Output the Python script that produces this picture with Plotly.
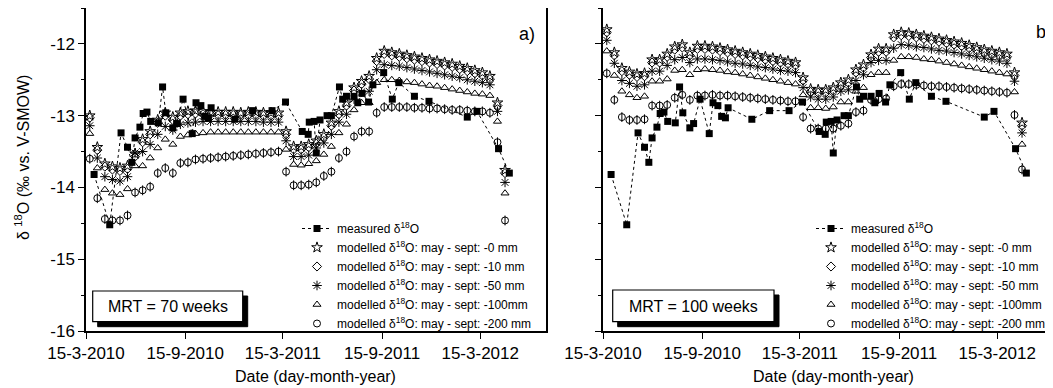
import plotly.graph_objects as go

# ---------------- data ----------------
model_dates = ["2010-03-22","2010-04-05","2010-04-19","2010-05-03","2010-05-17","2010-05-31","2010-06-14","2010-06-28",
               "2010-07-12","2010-07-26","2010-08-09","2010-08-23","2010-09-06","2010-09-20","2010-10-04","2010-10-18",
               "2010-11-01","2010-11-15","2010-11-29","2010-12-13","2010-12-27","2011-01-10","2011-01-24","2011-02-07",
               "2011-02-21","2011-03-07","2011-03-21","2011-04-04","2011-04-18","2011-05-02","2011-05-16","2011-05-30",
               "2011-06-13","2011-06-27","2011-07-11","2011-07-25","2011-08-08","2011-08-22","2011-09-05","2011-09-19",
               "2011-10-03","2011-10-17","2011-10-31","2011-11-14","2011-11-28","2011-12-12","2011-12-26","2012-01-09",
               "2012-01-23","2012-02-06","2012-02-20","2012-03-05","2012-03-19","2012-04-02","2012-04-16","2012-04-30"]

meas_dates = ["2010-03-30","2010-04-28","2010-05-19","2010-05-31","2010-06-08","2010-06-14","2010-06-23","2010-06-29",
              "2010-07-06","2010-07-13","2010-07-27","2010-08-04","2010-08-10","2010-08-23","2010-08-30","2010-09-11",
              "2010-09-28","2010-10-05","2010-10-14","2010-10-21","2010-10-28","2010-11-02","2010-12-16","2011-01-18",
              "2011-02-23","2011-03-20","2011-04-20","2011-05-01","2011-05-03","2011-05-12","2011-05-16","2011-05-23",
              "2011-06-05","2011-06-13","2011-06-28","2011-07-04","2011-07-11","2011-07-25","2011-08-01","2011-08-09",
              "2011-08-21","2011-08-29","2011-09-18","2011-10-04","2011-10-16","2011-11-14","2011-12-11","2012-02-20",
              "2012-03-09","2012-04-18","2012-05-08"]
measured = [-13.82,-14.52,-13.24,-13.44,-13.65,-13.31,-13.16,-12.97,-12.95,-13.08,-13.10,-12.60,-12.96,-13.17,-13.11,
            -12.77,-13.25,-12.82,-12.86,-13.01,-13.03,-12.89,-13.05,-12.93,-12.93,-12.81,-13.22,-13.26,-13.09,-13.08,
            -13.52,-13.06,-13.00,-13.00,-12.60,-12.77,-12.73,-12.73,-12.82,-12.69,-12.81,-12.57,-12.40,-12.77,-12.54,
            -12.73,-12.80,-13.02,-12.94,-13.46,-13.80]

# MRT = 70 weeks (panel a)
a_0mm = [-13.00,-13.44,-13.67,-13.71,-13.73,-13.70,-13.53,-13.33,-13.22,-13.06,
         -12.96,-13.02,-12.96,-12.94,-12.93,-12.94,-12.95,-12.95,-12.95,-12.95,
         -12.96,-12.95,-12.95,-12.96,-12.96,-12.96,-13.22,-13.43,-13.43,-13.40,
         -13.35,-13.26,-13.10,-12.94,-12.82,-12.61,-12.52,-12.45,-12.20,-12.10,
         -12.12,-12.14,-12.16,-12.18,-12.20,-12.22,-12.24,-12.26,-12.28,-12.31,
         -12.34,-12.37,-12.40,-12.45,-12.82,-13.76]
a_10mm = [-13.03,-13.48,-13.71,-13.75,-13.77,-13.74,-13.57,-13.37,-13.26,-13.10,
          -13.00,-13.06,-13.00,-12.98,-12.97,-12.98,-12.98,-12.99,-12.99,-12.99,
          -12.99,-12.99,-12.99,-13.00,-13.00,-13.00,-13.26,-13.47,-13.47,-13.44,
          -13.39,-13.30,-13.14,-12.98,-12.86,-12.65,-12.56,-12.49,-12.24,-12.14,
          -12.16,-12.18,-12.20,-12.22,-12.24,-12.26,-12.28,-12.30,-12.32,-12.35,
          -12.38,-12.41,-12.44,-12.49,-12.86,-13.80]
a_50mm = [-13.14,-13.59,-13.85,-13.89,-13.91,-13.85,-13.52,-13.50,-13.40,-13.26,
          -13.15,-13.20,-13.12,-13.10,-13.09,-13.08,-13.08,-13.08,-13.08,-13.08,
          -13.08,-13.08,-13.08,-13.09,-13.09,-13.09,-13.35,-13.57,-13.57,-13.55,
          -13.45,-13.38,-13.26,-13.09,-12.98,-12.77,-12.67,-12.66,-12.36,-12.29,
          -12.30,-12.31,-12.33,-12.35,-12.37,-12.39,-12.41,-12.43,-12.45,-12.47,
          -12.50,-12.52,-12.54,-12.57,-12.94,-13.93]
a_100mm = [-13.25,-13.73,-14.03,-14.08,-14.10,-14.02,-13.70,-13.70,-13.59,-13.45,
           -13.33,-13.40,-13.29,-13.27,-13.25,-13.24,-13.23,-13.23,-13.23,-13.23,
           -13.23,-13.23,-13.23,-13.23,-13.23,-13.23,-13.47,-13.68,-13.69,-13.67,
           -13.63,-13.54,-13.43,-13.24,-13.12,-12.92,-12.82,-12.82,-12.54,-12.50,
           -12.50,-12.51,-12.53,-12.54,-12.56,-12.58,-12.59,-12.61,-12.63,-12.65,
           -12.67,-12.69,-12.70,-12.72,-13.08,-14.08]
a_200mm = [-13.60,-14.15,-14.44,-14.46,-14.46,-14.39,-14.07,-14.04,-13.99,-13.80,
           -13.73,-13.80,-13.66,-13.65,-13.61,-13.60,-13.59,-13.58,-13.57,-13.56,
           -13.55,-13.54,-13.53,-13.52,-13.51,-13.50,-13.78,-13.97,-13.97,-13.96,
           -13.93,-13.84,-13.78,-13.59,-13.50,-13.29,-13.22,-13.22,-12.96,-12.88,
           -12.88,-12.88,-12.88,-12.89,-12.89,-12.90,-12.90,-12.91,-12.92,-12.92,
           -12.93,-12.94,-12.94,-12.96,-13.37,-14.46]

# MRT = 100 weeks (panel b)
b_0mm = [-11.80,-12.12,-12.34,-12.39,-12.42,-12.41,-12.22,-12.22,-12.14,-12.04,
         -12.01,-12.12,-12.03,-12.03,-12.04,-12.06,-12.08,-12.10,-12.12,-12.14,
         -12.16,-12.18,-12.20,-12.22,-12.24,-12.26,-12.47,-12.63,-12.64,-12.64,
         -12.61,-12.54,-12.50,-12.36,-12.29,-12.15,-12.07,-12.07,-11.87,-11.84,
         -11.85,-11.87,-11.89,-11.91,-11.93,-11.95,-11.97,-11.99,-12.02,-12.05,
         -12.08,-12.10,-12.12,-12.14,-12.40,-13.10]
b_10mm = [-11.84,-12.16,-12.38,-12.43,-12.46,-12.45,-12.26,-12.26,-12.18,-12.08,
          -12.05,-12.16,-12.07,-12.07,-12.08,-12.10,-12.12,-12.14,-12.16,-12.18,
          -12.20,-12.22,-12.24,-12.26,-12.28,-12.30,-12.51,-12.67,-12.68,-12.68,
          -12.65,-12.58,-12.54,-12.40,-12.33,-12.19,-12.11,-12.11,-11.91,-11.88,
          -11.89,-11.91,-11.93,-11.95,-11.97,-11.99,-12.01,-12.03,-12.06,-12.09,
          -12.12,-12.14,-12.16,-12.18,-12.44,-13.14]
b_50mm = [-11.95,-12.27,-12.51,-12.55,-12.59,-12.57,-12.38,-12.38,-12.30,-12.22,
          -12.19,-12.26,-12.21,-12.21,-12.22,-12.23,-12.25,-12.27,-12.28,-12.30,
          -12.32,-12.33,-12.35,-12.37,-12.38,-12.40,-12.61,-12.74,-12.77,-12.77,
          -12.74,-12.66,-12.64,-12.51,-12.43,-12.26,-12.23,-12.23,-12.06,-12.01,
          -12.02,-12.04,-12.05,-12.07,-12.09,-12.10,-12.12,-12.14,-12.16,-12.18,
          -12.20,-12.22,-12.24,-12.27,-12.52,-13.24]
b_100mm = [-12.10,-12.44,-12.66,-12.71,-12.75,-12.73,-12.52,-12.52,-12.49,-12.37,
           -12.36,-12.43,-12.36,-12.35,-12.36,-12.37,-12.39,-12.40,-12.42,-12.44,
           -12.46,-12.48,-12.50,-12.52,-12.54,-12.56,-12.71,-12.89,-12.89,-12.90,
           -12.88,-12.81,-12.81,-12.66,-12.61,-12.43,-12.40,-12.40,-12.23,-12.18,
           -12.18,-12.19,-12.21,-12.22,-12.24,-12.26,-12.28,-12.30,-12.32,-12.34,
           -12.36,-12.38,-12.40,-12.42,-12.67,-13.40]
b_200mm = [-12.41,-12.78,-13.02,-13.06,-13.06,-13.05,-12.86,-12.86,-12.85,-12.75,
           -12.71,-12.78,-12.72,-12.72,-12.71,-12.72,-12.72,-12.73,-12.74,-12.75,
           -12.76,-12.77,-12.78,-12.79,-12.80,-12.80,-13.02,-13.18,-13.18,-13.18,
           -13.18,-13.14,-13.11,-12.95,-12.93,-12.78,-12.77,-12.76,-12.59,-12.56,
           -12.56,-12.57,-12.58,-12.59,-12.59,-12.60,-12.61,-12.62,-12.63,-12.64,
           -12.65,-12.66,-12.67,-12.68,-12.99,-13.75]

tick_vals = ["2010-03-15", "2010-09-15", "2011-03-15", "2011-09-15", "2012-03-15"]
tick_text = ["15-3-2010", "15-9-2010", "15-3-2011", "15-9-2011", "15-3-2012"]
y_ticks = [-16, -15, -14, -13, -12]

series_names = ["modelled δ<sup>18</sup>O: may - sept: -0 mm",
                "modelled δ<sup>18</sup>O: may - sept: -10 mm",
                "modelled δ<sup>18</sup>O: may - sept: -50 mm",
                "modelled δ<sup>18</sup>O: may - sept: -100mm",
                "modelled δ<sup>18</sup>O: may - sept: -200 mm"]

# ---------------- layout helpers ----------------
# the page body has an 8 px default margin, so the figure is drawn 8 px in from the window edge
OFF = 8
WIN_W, WIN_H = 1053, 388
W, H = WIN_W - OFF, WIN_H - OFF
AXIS_BOTTOM = 331          # window pixel row of the x axis
MB = WIN_H - AXIS_BOTTOM   # bottom margin (figure pixels)
MT = 0
PH = H - MT - MB
FONT = "Arial, 'Liberation Sans', sans-serif"


def fx(px):
    """window pixel column -> paper x"""
    return (px - OFF) / W


def fy(py):
    """window pixel row -> paper y"""
    return (AXIS_BOTTOM - py) / PH


fig = go.Figure()

symbols = ["star-open", "diamond-open", "asterisk-open", "triangle-up-open", "circle-open"]
sizes = [8, 7, 8, 7, 7]

panels = [
    ("x", "y", "legend", [a_0mm, a_10mm, a_50mm, a_100mm, a_200mm]),
    ("x2", "y2", "legend2", [b_0mm, b_10mm, b_50mm, b_100mm, b_200mm]),
]

for xa, ya, lg, series in panels:
    for i, vals in enumerate(series):
        fig.add_trace(go.Scatter(
            x=model_dates, y=vals, mode="markers", name=series_names[i],
            xaxis=xa, yaxis=ya, legend=lg, legendrank=i + 2, legendgroup=lg + str(i),
            marker=dict(symbol=symbols[i], size=sizes[i], color="black",
                        line=dict(color="black", width=1)),
        ))
        if i == 4:
            fig.add_trace(go.Scatter(
                x=model_dates, y=vals, mode="markers", showlegend=False,
                xaxis=xa, yaxis=ya, legend=lg, legendgroup=lg + str(i),
                marker=dict(symbol="line-ns-open", size=7, color="black",
                            line=dict(color="black", width=1)),
            ))
    fig.add_trace(go.Scatter(
        x=meas_dates, y=measured, mode="lines+markers", name="measured δ<sup>18</sup>O",
        xaxis=xa, yaxis=ya, legend=lg, legendrank=1,
        line=dict(color="black", width=1, dash="dot"),
        marker=dict(symbol="square", size=7, color="black"),
    ))

axis_common = dict(showgrid=False, zeroline=False, showline=True, linecolor="black", linewidth=1.5,
                   ticks="outside", ticklen=6, tickwidth=1.2, tickcolor="black", automargin=False,
                   tickfont=dict(family=FONT, size=17, color="black"))

legend_common = dict(xanchor="left", yanchor="top", bgcolor="rgba(0,0,0,0)", borderwidth=0,
                     font=dict(family=FONT, size=12, color="black"), tracegroupgap=0, itemwidth=30)

fig.update_layout(
    width=W, height=H, margin=dict(l=0, r=0, t=MT, b=MB, autoexpand=False), autosize=False,
    paper_bgcolor="white", plot_bgcolor="white",
    font=dict(family=FONT, color="black"),
    xaxis=dict(domain=[fx(86), fx(546)], range=["2010-03-15", "2012-07-15"], anchor="y",
               tickvals=tick_vals, ticktext=tick_text, mirror=True, **axis_common),
    yaxis=dict(domain=[0, 1], range=[-16, -11.5], anchor="x", tickvals=y_ticks,
               ticktext=[str(v) for v in y_ticks], mirror=True,
               minor=dict(dtick=0.5, ticks="outside", ticklen=3, tickcolor="black"), **axis_common),
    xaxis2=dict(domain=[fx(603), 1], range=["2010-03-15", "2012-06-26 10:00"], anchor="y2",
                tickvals=tick_vals, ticktext=tick_text, mirror=True, **axis_common),
    yaxis2=dict(domain=[0, 1], range=[-16, -11.5], anchor="x2", tickvals=y_ticks,
                showticklabels=False, mirror=False,
                minor=dict(dtick=0.5, ticks="outside", ticklen=3, tickcolor="black"), **axis_common),
    legend=dict(x=fx(297), y=fy(214), **legend_common),
    legend2=dict(x=fx(811), y=fy(214), **legend_common),
)

# MRT boxes with drop shadow
for (x0, x1, y0, y1) in [(92.7, 242.7, 291, 321.7), (612.7, 774, 290, 321.7)]:
    fig.add_shape(type="rect", xref="paper", yref="paper",
                  x0=fx(x0 + 5), x1=fx(x1 + 5), y0=fy(y1 + 5), y1=fy(y0 + 5),
                  fillcolor="black", line=dict(color="black", width=1), layer="above")
    fig.add_shape(type="rect", xref="paper", yref="paper",
                  x0=fx(x0), x1=fx(x1), y0=fy(y1), y1=fy(y0),
                  fillcolor="white", line=dict(color="black", width=1.2), layer="above")

annots = [
    dict(text="MRT = 70 weeks", x=fx(167.7), y=fy(306.5), size=16),
    dict(text="MRT = 100 weeks", x=fx(693.3), y=fy(306), size=16),
    dict(text="a)", x=fx(527), y=fy(34), size=18),
    dict(text="b)", x=fx(1044), y=fy(32), size=18),
    dict(text="Date (day-month-year)", x=fx(316), y=fy(376), size=16),
    dict(text="Date (day-month-year)", x=fx(833), y=fy(376), size=16),
]
for a in annots:
    fig.add_annotation(text=a["text"], x=a["x"], y=a["y"], xref="paper", yref="paper",
                       xanchor="center", yanchor="middle", showarrow=False,
                       font=dict(family=FONT, size=a["size"], color="black"))

fig.add_annotation(text="δ <sup>18</sup>O (‰ vs. V-SMOW)", x=fx(22), y=fy(158), xref="paper", yref="paper",
                   xanchor="center", yanchor="middle", textangle=-90, showarrow=False,
                   font=dict(family=FONT, size=16, color="black"))

fig.write_html("out.html")
